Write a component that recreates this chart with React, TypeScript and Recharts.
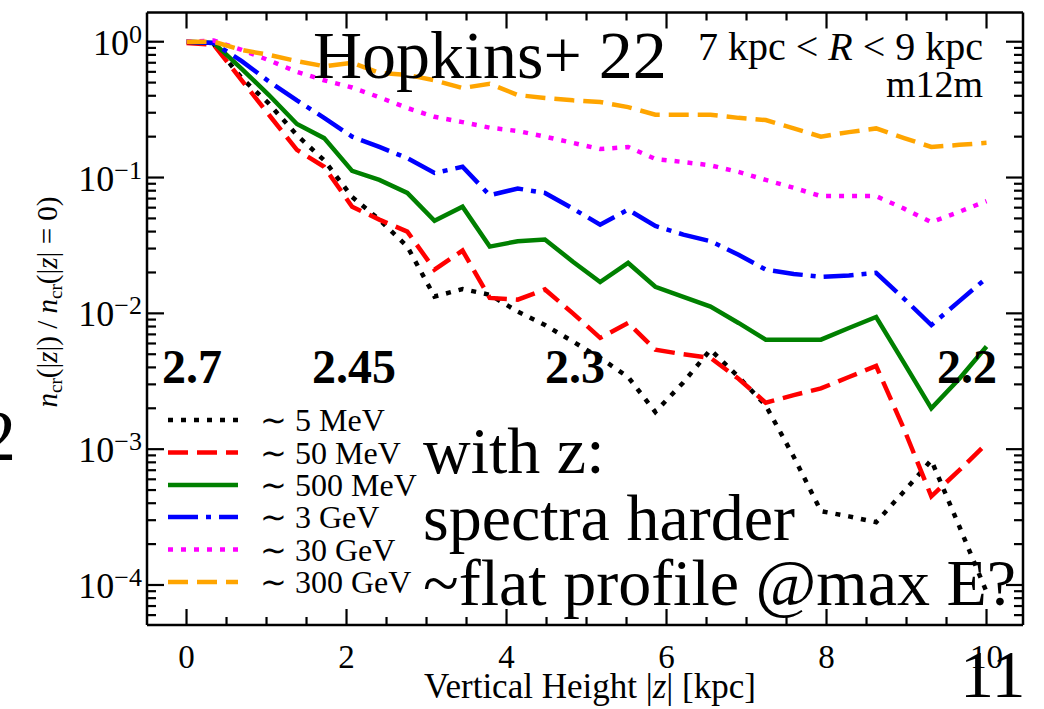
import React from "react";
import { LineChart, Line, XAxis, YAxis } from "recharts";

const FONT = "'Liberation Serif', 'Times New Roman', serif";

// vertical height |z| in kpc
const heightKpc = [
  0, 0.34, 0.69, 1.03, 1.38, 1.72, 2.07, 2.41, 2.76, 3.1, 3.45, 3.79, 4.14, 4.48, 4.83,
  5.17, 5.52, 5.86, 6.21, 6.55, 6.9, 7.24, 7.59, 7.93, 8.28, 8.62, 8.97, 9.31, 9.66, 10,
];

// n_cr(|z|) / n_cr(0) per energy bin
const mev5 = [
  1.0, 0.96, 0.54, 0.35, 0.205, 0.134, 0.072, 0.049, 0.031, 0.0133, 0.0151, 0.0137, 0.0103, 0.0082, 0.0062,
  0.0047, 0.0034, 0.00188, 0.0031, 0.0054, 0.0034, 0.0021, 0.00088, 0.00035, 0.00032, 0.00029, 0.00049, 0.00083, 0.00027, 0.000089,
];
const mev50 = [
  0.98, 0.95, 0.52, 0.29, 0.16, 0.12, 0.061, 0.049, 0.04, 0.021, 0.029, 0.013, 0.0126, 0.015, 0.01,
  0.0066, 0.0085, 0.0054, 0.005, 0.0047, 0.0033, 0.0022, 0.0025, 0.0028, 0.0034, 0.0041, 0.0014, 0.00045, 0.0007, 0.0011,
];
const mev500 = [
  1.0, 0.98, 0.63, 0.405, 0.248, 0.195, 0.112, 0.096, 0.077, 0.048, 0.061, 0.031, 0.034, 0.035, 0.024,
  0.017, 0.0235, 0.0157, 0.0132, 0.0112, 0.0085, 0.0064, 0.0064, 0.0064, 0.0078, 0.0094, 0.0043, 0.002, 0.0033, 0.0057,
];
const gev3 = [
  1.0, 0.98, 0.72, 0.51, 0.37, 0.275, 0.2, 0.168, 0.139, 0.108, 0.12, 0.074, 0.083, 0.077, 0.059,
  0.045, 0.058, 0.044, 0.038, 0.034, 0.027, 0.021, 0.0195, 0.0186, 0.019, 0.0199, 0.0128, 0.0082, 0.0123, 0.0182,
];
const gev30 = [
  1.0, 1.02, 0.87, 0.73, 0.6, 0.52, 0.46, 0.39, 0.325, 0.28, 0.256, 0.233, 0.22, 0.2, 0.18,
  0.162, 0.168, 0.137, 0.13, 0.123, 0.11, 0.096, 0.084, 0.073, 0.073, 0.073, 0.059, 0.047, 0.056, 0.067,
];
const gev300 = [
  1.0, 1.0, 0.87, 0.8, 0.72, 0.66, 0.7, 0.59, 0.57, 0.52, 0.456, 0.49, 0.405, 0.385, 0.37,
  0.36, 0.33, 0.29, 0.29, 0.29, 0.275, 0.265, 0.23, 0.2, 0.216, 0.23, 0.195, 0.168, 0.174, 0.18,
];

const seriesLabels = ["5 MeV", "50 MeV", "500 MeV", "3 GeV", "30 GeV", "300 GeV"];

// spectral slope annotations
const slopeLabels = ["2.7", "2.45", "2.3", "2.2"];

const xTicks = [0, 0.5, 1, 1.5, 2, 2.5, 3, 3.5, 4, 4.5, 5, 5.5, 6, 6.5, 7, 7.5, 8, 8.5, 9, 9.5, 10];
const decades = [1e-5, 1e-4, 1e-3, 1e-2, 1e-1, 1];
const Y_MIN = 5.075e-5;
const Y_MAX = 1.641;
const yTicks = decades
  .flatMap((d) => [1, 2, 3, 4, 5, 6, 7, 8, 9].map((m) => m * d))
  .filter((v) => v >= Y_MIN && v <= Y_MAX);

const series = [
  { key: "mev5", color: "#000000", dash: "5 8", values: mev5 },
  { key: "mev50", color: "#ff0000", dash: "20 9", values: mev50 },
  { key: "mev500", color: "#008000", dash: undefined, values: mev500 },
  { key: "gev3", color: "#0000ff", dash: "30 8 5 8", values: gev3 },
  { key: "gev30", color: "#ff00ff", dash: "5 8", values: gev30 },
  { key: "gev300", color: "#ffa500", dash: "20 9", values: gev300 },
];

const data = heightKpc.map((z, i) => {
  const row: Record<string, number> = { z };
  series.forEach((s) => {
    row[s.key] = s.values[i];
  });
  return row;
});

const isDecade = (v: number) => Math.abs(Math.log10(v) - Math.round(Math.log10(v))) < 1e-6;
const isEven = (v: number) => Math.abs(v % 2) < 1e-9;

const TICK_W = 2.2;

// ticks point into the frame, labels sit outside
const BottomTick = (props: any) => {
  const { x, y, payload } = props;
  const v = payload.value;
  const len = isEven(v) ? 16 : 8;
  return (
    <g>
      <path d={`M${x},${y}V${y - len}`} stroke="#000" strokeWidth={TICK_W} fill="none" />
      {isEven(v) && (
        <text x={x} y={y + 43} textAnchor="middle" fontSize={33} fontFamily={FONT} fill="#000">
          {v}
        </text>
      )}
    </g>
  );
};

const TopTick = (props: any) => {
  const { x, y, payload } = props;
  const len = isEven(payload.value) ? 16 : 8;
  return <path d={`M${x},${y}V${y + len}`} stroke="#000" strokeWidth={TICK_W} fill="none" />;
};

const LeftTick = (props: any) => {
  const { x, y, payload } = props;
  const v = payload.value;
  const major = isDecade(v);
  const exp = Math.round(Math.log10(v));
  return (
    <g>
      <path d={`M${x},${y}H${x + (major ? 17 : 9)}`} stroke="#000" strokeWidth={TICK_W} fill="none" />
      {major && (
        <text x={x - 5} y={y + 13} textAnchor="end" fontSize={36} fontFamily={FONT} fill="#000">
          <tspan>10</tspan>
          <tspan dy={-12} fontSize={26}>
            {exp < 0 ? `\u2212${-exp}` : `${exp}`}
          </tspan>
        </text>
      )}
    </g>
  );
};

const RightTick = (props: any) => {
  const { x, y, payload } = props;
  const len = isDecade(payload.value) ? 17 : 9;
  return <path d={`M${x},${y}H${x - len}`} stroke="#000" strokeWidth={TICK_W} fill="none" />;
};

const axisLine = { stroke: "#000", strokeWidth: 2.5 };
const X_DOMAIN: [number, number] = [-0.494, 10.456];

const legendRows = [420, 452.5, 485, 517, 549.5, 582];
const slopeX = [162, 312, 545, 937];

export default function App() {
  return (
    <div style={{ position: "absolute", left: 0, top: 0, width: 1044, height: 709, background: "#fff" }}>
      <LineChart
        width={1044}
        height={709}
        data={data}
        margin={{ top: 11.5, right: 20, bottom: 0, left: 0 }}
      >
        <XAxis
          xAxisId={0}
          dataKey="z"
          type="number"
          domain={X_DOMAIN}
          allowDataOverflow
          ticks={xTicks}
          interval={0}
          height={84}
          tickSize={0}
          tickMargin={0}
          tickLine={false}
          axisLine={axisLine}
          tick={BottomTick}
        />
        {/* mirrored frame edges: a 1px axis box keeps them rendered */}
        <XAxis
          xAxisId="top"
          orientation="top"
          dataKey="z"
          type="number"
          domain={X_DOMAIN}
          allowDataOverflow
          ticks={xTicks}
          interval={0}
          height={1}
          tickSize={0}
          tickMargin={0}
          tickLine={false}
          axisLine={axisLine}
          tick={TopTick}
        />
        <YAxis
          yAxisId={0}
          type="number"
          scale="log"
          domain={[Y_MIN, Y_MAX]}
          allowDataOverflow
          ticks={yTicks}
          interval={0}
          width={147}
          tickSize={0}
          tickMargin={0}
          tickLine={false}
          axisLine={axisLine}
          tick={LeftTick}
        />
        <YAxis
          yAxisId="right"
          orientation="right"
          type="number"
          scale="log"
          domain={[Y_MIN, Y_MAX]}
          allowDataOverflow
          ticks={yTicks}
          interval={0}
          width={1}
          tickSize={0}
          tickMargin={0}
          tickLine={false}
          axisLine={axisLine}
          tick={RightTick}
        />
        {series.map((s) => (
          <Line
            key={s.key}
            xAxisId={0}
            yAxisId={0}
            type="linear"
            dataKey={s.key}
            stroke={s.color}
            strokeWidth={4.5}
            strokeDasharray={s.dash}
            dot={false}
            activeDot={false}
            isAnimationActive={false}
          />
        ))}
      </LineChart>

      <svg
        width={1044}
        height={709}
        style={{ position: "absolute", left: 0, top: 0, pointerEvents: "none" }}
        fontFamily={FONT}
      >
        {/* y axis title */}
        <text
          x={57}
          y={302}
          transform="rotate(-90 57 302)"
          textAnchor="middle"
          fontSize={29}
          fill="#000"
        >
          <tspan fontStyle="italic">n</tspan>
          <tspan fontSize={19} dy={5}>cr</tspan>
          <tspan dy={-5}>(|</tspan>
          <tspan fontStyle="italic">z</tspan>
          <tspan>|) / </tspan>
          <tspan fontStyle="italic">n</tspan>
          <tspan fontSize={19} dy={5}>cr</tspan>
          <tspan dy={-5}>(|</tspan>
          <tspan fontStyle="italic">z</tspan>
          <tspan>| = 0)</tspan>
        </text>

        {/* x axis title */}
        <text x={590} y={698} textAnchor="middle" fontSize={35} fill="#000">
          <tspan>Vertical Height |</tspan>
          <tspan fontStyle="italic">z</tspan>
          <tspan>| [kpc]</tspan>
        </text>

        <text x={313} y={78} fontSize={68} fill="#000">Hopkins+ 22</text>
        <text x={983} y={60} textAnchor="end" fontSize={40} fill="#000">
          <tspan>7 kpc  &lt;  </tspan>
          <tspan fontStyle="italic">R</tspan>
          <tspan>  &lt;  9 kpc</tspan>
        </text>
        <text x={983} y={97} textAnchor="end" fontSize={38} fill="#000">m12m</text>

        {slopeLabels.map((t, i) => (
          <text key={t} x={slopeX[i]} y={383} fontSize={48} fontWeight="bold" fill="#000">
            {t}
          </text>
        ))}

        {series.map((s, i) => (
          <g key={s.key}>
            <line
              x1={168}
              x2={238}
              y1={legendRows[i]}
              y2={legendRows[i]}
              stroke={s.color}
              strokeWidth={4.5}
              strokeDasharray={s.dash}
            />
            <text x={260} y={legendRows[i] + 11} fontSize={32} fill="#000">
              {"\u223C " + seriesLabels[i]}
            </text>
          </g>
        ))}

        <text fontSize={66} fill="#000">
          <tspan x={423} y={473}>with z:</tspan>
          <tspan x={423} y={540}>spectra harder</tspan>
          <tspan x={423} y={605}>~flat profile @max E?</tspan>
        </text>

        <text x={-20} y={460} fontSize={72} fill="#000">2</text>
        <text x={960} y={697} fontSize={68} fill="#000">11</text>
      </svg>
    </div>
  );
}
